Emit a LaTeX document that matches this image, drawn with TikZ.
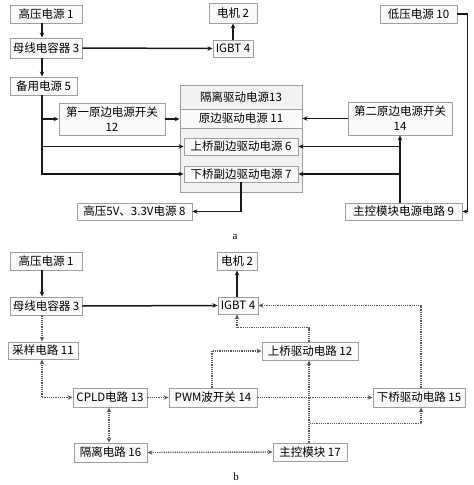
\documentclass[tikz,border=0pt]{standalone}
\usepackage{fontspec}
\setmainfont{Noto Sans CJK SC}
\newfontfamily\latinserif{Liberation Serif}
\usetikzlibrary{arrows.meta,shadows}

\begin{document}
\begin{tikzpicture}[x=1pt, y=-1pt,
	box/.style={draw=gray!75, fill=gray!4, line width=0.9pt, inner sep=0pt, align=center,
		font=\fontsize{11.5}{15}\selectfont,
		drop shadow={shadow xshift=1pt, shadow yshift=-1pt, fill=gray!45, opacity=0.6}},
	solidline/.style={black!90, line width=1.5pt},
	dotline/.style={black!65, line width=1.4pt, dash pattern=on 1.2pt off 1pt},
	>={Stealth[length=5pt, width=4.5pt]}]
	\useasboundingbox (0,0) rectangle (474,485);
	
	% a
	\node[box, minimum width=72, minimum height=18] (hv1) at (46,14) {高压电源 1};
	\node[box, minimum width=48, minimum height=20] (motor2) at (233,13) {电机 2};
	\node[box, minimum width=72, minimum height=20] (bus3) at (46,48) {母线电容器 3};
	\node[box, minimum width=40, minimum height=17] (igbt4) at (233,48.5) {IGBT 4};
	\node[box, minimum width=67, minimum height=18] (bak5) at (43.5,86) {备用电源 5};
	\node[box, minimum width=77, minimum height=18] (low10) at (418.5,14) {低压电源 10};
	\node[box, minimum width=106, minimum height=32] (sw12) at (112,119) {第一原边电源开关\\12};
	\node[box, minimum width=104, minimum height=33] (sw14) at (400,118.5) {第二原边电源开关\\14};
	\node[box, minimum width=122, minimum height=107, fill=gray!10] (iso13) at (241,138.5) {};
	\node[box, minimum width=122, minimum height=24, fill=gray!10, drop shadow={opacity=0}] (iso13t) at (241,97) {隔离驱动电源13};
	\node[box, minimum width=122, minimum height=19] (pri11) at (241,118.5) {原边驱动电源 11};
	\node[box, minimum width=114, minimum height=17] (up6) at (241,146.5) {上桥副边驱动电源 6};
	\node[box, minimum width=114, minimum height=16] (lo7) at (241,174) {下桥副边驱动电源 7};
	\node[box, minimum width=115, minimum height=17] (hv8) at (134.5,211.5) {高压5V、3.3V电源 8};
	\node[box, minimum width=117, minimum height=17] (main9) at (403.5,211.5) {主控模块电源电路 9};
	\node[font=\latinserif\fontsize{11}{13}\selectfont] (capa) at (235,237) {a};
	
	\path[solidline,->] ([xshift=-4pt]hv1.south) edge ([xshift=-4pt]bus3.north);
	\path[solidline,->] (bus3.east) edge (igbt4.west);
	\path[solidline,->] (igbt4.north) edge (motor2.south);
	\path[solidline,->] ([xshift=-4pt]bus3.south) edge ([xshift=-1.5pt]bak5.north);
	\draw[solidline,->] ([xshift=-1.5pt]bak5.south) |- (sw12.west);
	\draw[solidline,->] ([xshift=-1.5pt]bak5.south) |- (up6.west);
	\draw[solidline,->] ([xshift=-1.5pt]bak5.south) |- (lo7.west);
	\draw[solidline,->] (sw12.east) -- (sw12.east -| pri11.west);
	\draw[solidline,->] (sw14.west) -- (sw14.west -| pri11.east);
	\draw[solidline,->] (low10.east) -- ++(10,0) |- (main9.east);
	\draw[solidline,->] (main9.north -| sw14.south) -- (sw14.south);
	\draw[solidline,->] (main9.north -| sw14.south) |- (up6.east);
	\draw[solidline,->] (main9.north -| sw14.south) |- (lo7.east);
	\draw[solidline,->] (lo7.south) |- (hv8.east);
	
	% b
	\node[box, minimum width=72, minimum height=18] (hvb1) at (46,261) {高压电源 1};
	\node[box, minimum width=40, minimum height=18] (motorb2) at (237,261) {电机 2};
	\node[box, minimum width=72, minimum height=18] (busb3) at (46,306) {母线电容器 3};
	\node[box, minimum width=40, minimum height=17] (igbtb4) at (238,305.5) {IGBT 4};
	\node[box, minimum width=70, minimum height=17] (sam11) at (43,350.5) {采样电路 11};
	\node[box, minimum width=96, minimum height=18] (upb12) at (310,351) {上桥驱动电路 12};
	\node[box, minimum width=74, minimum height=19] (cpld13) at (110,397.5) {CPLD电路 13};
	\node[box, minimum width=88, minimum height=19] (pwm14) at (213,397.5) {PWM波开关 14};
	\node[box, minimum width=92, minimum height=19] (lob15) at (419,397.5) {下桥驱动电路 15};
	\node[box, minimum width=73, minimum height=19] (iso16) at (110.5,452.5) {隔离电路 16};
	\node[box, minimum width=74, minimum height=18] (mc17) at (310,452) {主控模块 17};
	\node[font=\latinserif\fontsize{11}{13}\selectfont] (capb) at (236,477) {b};
	
	\path[solidline,->] ([xshift=-4pt]hvb1.south) edge ([xshift=-4pt]busb3.north);
	\path[solidline,->] (busb3.east) edge (igbtb4.west);
	\path[solidline,->] ([xshift=-1pt]igbtb4.north) edge (motorb2.south);
	\path[dotline,->] ([xshift=-4pt]busb3.south) edge ([xshift=-1pt]sam11.north);
	\draw[dotline,<->] ([xshift=-1pt]sam11.south) |- (cpld13.west);
	\path[dotline,->] (cpld13.east) edge (pwm14.west);
	\path[dotline,->] (pwm14.east) edge (lob15.west);
	\draw[dotline,->] ([xshift=-1pt]pwm14.north) |- (upb12.west);
	\draw[dotline,->] ([xshift=-1pt]upb12.north) -- ++(0,-14) -| ([xshift=-1pt]igbtb4.south);
	\draw[dotline,->] ([xshift=2pt]lob15.north) |- (igbtb4.east);
	\path[dotline,<->] ([xshift=-1pt]cpld13.south) edge ([xshift=-1.5pt]iso16.north);
	\path[dotline,<->] (iso16.east) edge (mc17.west);
	\path[dotline,->] ([xshift=-1pt]mc17.north) edge ([xshift=-1pt]upb12.south);
	\draw[dotline,->] ([xshift=-1pt]mc17.north) -- ++(0,-19) -| ([xshift=2pt]lob15.south);
\end{tikzpicture}
\end{document}
